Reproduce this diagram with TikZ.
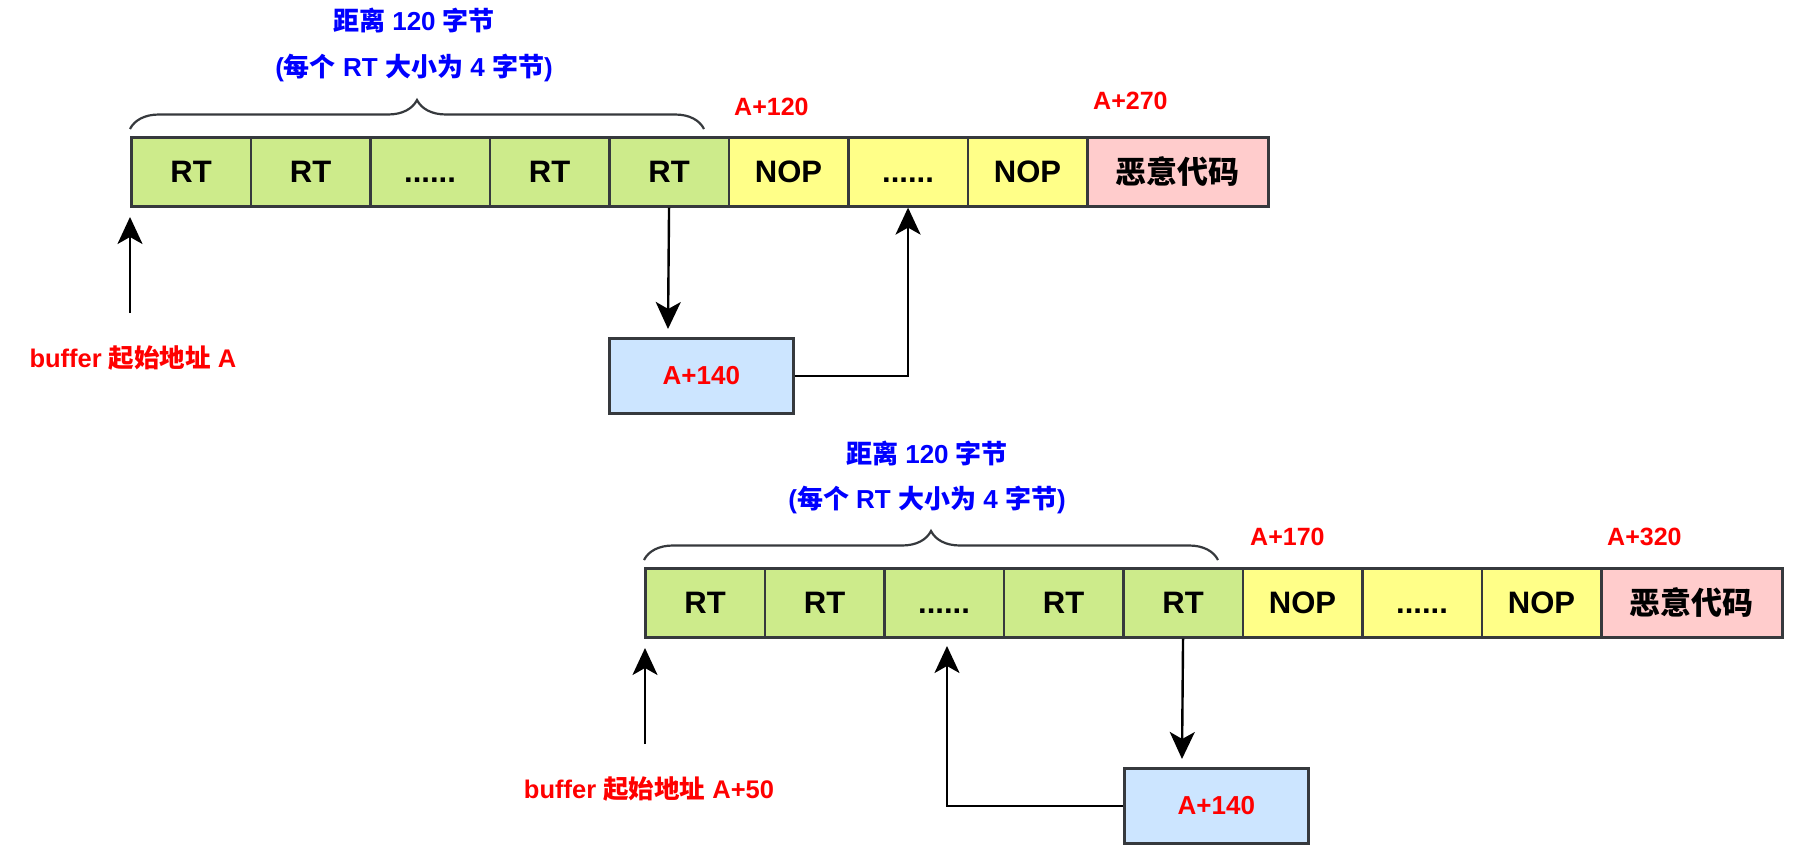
\documentclass[tikz,border=0pt]{standalone}
\usepackage{fontspec}
\setmainfont{Liberation Sans}
\newfontfamily\cjk{Noto Sans CJK SC}
\usetikzlibrary{arrows.meta,decorations.pathreplacing}

\definecolor{cellgreen}{HTML}{CDEB8B}
\definecolor{cellyellow}{HTML}{FFFF88}
\definecolor{cellpink}{HTML}{FFCCCC}
\definecolor{cellblue}{HTML}{CCE5FF}
\definecolor{edgegray}{HTML}{36393D}
\definecolor{lblblue}{HTML}{0000FF}
\definecolor{lblred}{HTML}{FF0000}
\newcommand{\celldots}{\vphantom{RT}......}

\begin{document}
\begin{tikzpicture}[x=1pt,y=-1pt,
 cellbox/.style={draw=edgegray, line width=2.6pt, minimum width=119.5pt, minimum height=69pt, inner sep=0pt, anchor=north west, font=\fontsize{31}{37}\selectfont\bfseries},
 rt/.style={cellbox, fill=cellgreen},
 nop/.style={cellbox, fill=cellyellow},
 mal/.style={cellbox, fill=cellpink, minimum width=181pt},
 addrbox/.style={draw=edgegray, line width=2.6pt, fill=cellblue, minimum width=184pt, minimum height=75pt, inner sep=0pt, anchor=north west, text=lblred, font=\fontsize{26}{31}\selectfont\bfseries},
 redlbl/.style={text=lblred, font=\fontsize{25}{30}\selectfont\bfseries, inner sep=0pt},
 startlbl/.style={text=lblred, font=\fontsize{25.5}{31}\selectfont\bfseries, inner sep=0pt},
 bluelbl/.style={text=lblblue, font=\fontsize{26}{32}\selectfont\bfseries, inner sep=0pt},
 ptr/.style={line width=2.4pt, -{Stealth[length=27pt,width=25pt,inset=7pt]}},
 bracestyle/.style={draw=edgegray, line width=2.2pt, decorate, decoration={brace, amplitude=29pt}},
]
\fill[white] (0,0) rectangle (1816,859);
\useasboundingbox (0,0) rectangle (1816,859);

% ---------- top diagram ----------
\node[bluelbl] (d1) at (414,21) {{\cjk 距离} 120 {\cjk 字节}};
\node[bluelbl] (d2) at (414,68) {({\cjk 每个} RT {\cjk 大小为} 4 {\cjk 字节})};
\coordinate (b1s) at (130,129);
\coordinate (b1e) at (704,129);
\draw[bracestyle] (b1s) -- (b1e);

\node[redlbl, anchor=west] (l120) at (734,107) {A+120};
\node[redlbl, anchor=west] (l270) at (1093,101) {A+270};

\node[rt] (t1) at (130,136) {RT};
\node[rt] (t2) at (249.5,136) {RT};
\node[rt] (t3) at (369,136) {\celldots};
\node[rt] (t4) at (488.5,136) {RT};
\node[rt] (t5) at (608,136) {RT};
\node[nop] (t6) at (727.5,136) {NOP};
\node[nop] (t7) at (847,136) {\celldots};
\node[nop] (t8) at (966.5,136) {NOP};
\node[mal] (t9) at (1086,136) {\cjk 恶意代码};

\coordinate (s1base) at (130,313);
\coordinate (s1tip) at (130,217);
\draw[ptr] (s1base) -- (s1tip);
\node[startlbl] (s1) at (133,358) {buffer {\cjk 起始地址} A};

\node[addrbox] (box1) at (608,337) {A+140};
\coordinate (p1tip) at (668,329);
\draw[ptr] (t5.south) -- (p1tip);
\draw[ptr] (box1.east) -| (t7.south);

% ---------- bottom diagram ----------
\node[bluelbl] (e1) at (927,453) {{\cjk 距离} 120 {\cjk 字节}};
\node[bluelbl] (e2) at (927,500) {({\cjk 每个} RT {\cjk 大小为} 4 {\cjk 字节})};
\coordinate (b2s) at (644,560);
\coordinate (b2e) at (1218,560);
\draw[bracestyle] (b2s) -- (b2e);

\node[redlbl, anchor=west] (l170) at (1250,537) {A+170};
\node[redlbl, anchor=west] (l320) at (1607,537) {A+320};

\node[rt] (u1) at (644,567) {RT};
\node[rt] (u2) at (763.5,567) {RT};
\node[rt] (u3) at (883,567) {\celldots};
\node[rt] (u4) at (1002.5,567) {RT};
\node[rt] (u5) at (1122,567) {RT};
\node[nop] (u6) at (1241.5,567) {NOP};
\node[nop] (u7) at (1361,567) {\celldots};
\node[nop] (u8) at (1480.5,567) {NOP};
\node[mal] (u9) at (1600,567) {\cjk 恶意代码};

\coordinate (s2base) at (645,744);
\coordinate (s2tip) at (645,648);
\draw[ptr] (s2base) -- (s2tip);
\node[startlbl] (s2) at (649,789) {buffer {\cjk 起始地址} A+50};

\node[addrbox] (box2) at (1123,767) {A+140};
\coordinate (p2tip) at (1182,759);
\draw[ptr] (u5.south) -- (p2tip);
\coordinate (q2tip) at (947,646);
\draw[ptr] (box2.west) -| (q2tip);
\end{tikzpicture}
\end{document}
